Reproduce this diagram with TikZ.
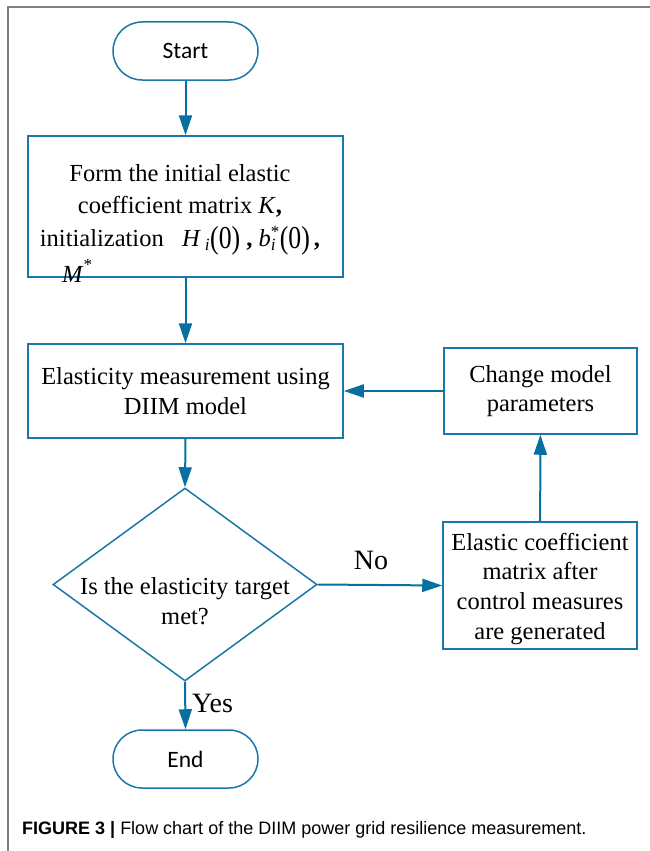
\documentclass[tikz,border=0pt]{standalone}
\usepackage{fontspec}
\usepackage{graphicx}
\setmainfont{Liberation Serif}
\newfontfamily\capfont{Liberation Sans}
\newfontfamily\startfont{Carlito}
\usetikzlibrary{arrows.meta,shapes.geometric}
\definecolor{fc}{RGB}{26,120,168}
\definecolor{ac}{RGB}{8,112,160}
\definecolor{framegray}{RGB}{128,128,128}
\newcommand\tallp[1]{\raisebox{-0.1em}{\scalebox{1.05}[1.3]{#1}}}
\begin{document}
\begin{tikzpicture}[x=1pt,y=-1pt,
 box/.style={draw=fc,line width=1.5pt,rectangle,inner sep=0pt,align=center,font=\fontsize{24.5}{29.5}\selectfont},
 term/.style={draw=fc,line width=1.5pt,rounded corners=29pt,minimum width=145pt,minimum height=58pt,inner sep=0pt,font=\startfont\fontsize{23.5}{28}\selectfont},
 txt/.style={align=center,font=\fontsize{24.5}{29.5}\selectfont,inner sep=0pt},
 lbl/.style={inner sep=0pt,font=\fontsize{28}{32}\selectfont},
 arr/.style={draw=ac,line width=2pt,-{Triangle[length=20pt,width=13pt]}}]
\useasboundingbox (0,0) rectangle (650,851);
\draw[framegray,line width=1.3pt] (8,851) -- (8,7) -- (650,7);

\node[term] (start) at (185.5,51) {Start};
\node[box,minimum width=315pt,minimum height=141pt] (init) at (185.5,206.5) {};
\node[txt,font=\fontsize{24.5}{32.5}\selectfont] (inittxt) at (180,210)
 {Form the initial elastic\\coefficient matrix \textit{K}\textbf{,}\\initialization\ \ \ \textit{H}\,\textsubscript{\textit{i}}\tallp{(0)}\ \textbf{,} \textit{b}\rlap{\textsubscript{\textit{i}}}\textsuperscript{*}\tallp{(0)}\,\textbf{,}};
\node[txt,anchor=west] (mstar) at (62,271) {\textit{M}\raisebox{0.15em}{\textsuperscript{*}}};

\node[box,minimum width=315pt,minimum height=94pt] (meas) at (185.5,391) {Elasticity measurement using\\DIIM model};
\node[box,minimum width=193pt,minimum height=86pt] (change) at (540.5,391) {Change model\\parameters};
\node[box,minimum width=194pt,minimum height=127pt] (elastic) at (540,585.5) {};
\node[txt] (elastictxt) at (540,589) {Elastic coefficient\\matrix after\\control measures\\[0.5pt]are generated};
\node[draw=fc,line width=1.5pt,diamond,minimum width=264pt,minimum height=193pt,inner sep=0pt] (dec) at (185,584.5) {};
\node[txt] (dectxt) at (185,601) {Is the elasticity target\\met?};
\node[term] (end) at (185.5,759) {End};

\draw[arr] (start) -- (init);
\draw[arr] (init) -- (meas);
\draw[arr] (meas.south) -- (dec.north);
\draw[arr] (dec.east) -- (elastic.west);
\node[lbl] (no) at (371,560) {No};
\draw[arr] (elastic) -- (change);
\draw[arr] (change) -- (meas);
\draw[arr] (dec.south) -- (end.north);
\node[lbl,anchor=west] (yes) at (192,703) {Yes};

\node[anchor=west,inner sep=0pt,font=\capfont\fontsize{18}{20}\selectfont] (cap) at (22,830)
 {\textbf{FIGURE 3 |} Flow chart of the DIIM power grid resilience measurement.};
\end{tikzpicture}
\end{document}
